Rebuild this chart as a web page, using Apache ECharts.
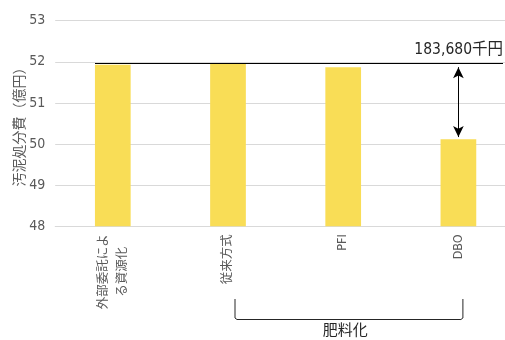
<!DOCTYPE html>
<html>
<head>
<meta charset="utf-8">
<script src="https://cdn.jsdelivr.net/npm/echarts@6/dist/echarts.min.js"></script>
<style>
html, body { margin: 0; padding: 0; background: #fff; }
#chart { width: 505px; height: 340px; }
</style>
</head>
<body>
<div id="chart"></div>
<script>
// data
var categories = ['外部委託による資源化', '従来方式', 'PFI', 'DBO'];
var costs = [51.93, 51.96, 51.87, 50.12];
var baseline = 51.96;
var diffLabel = '183,680千円';
var groupLabel = '肥料化';
var yMin = 48, yMax = 53, yStep = 1;

var narrow = "'Liberation Sans Narrow', 'DejaVu Sans Condensed', 'Noto Sans CJK JP', sans-serif";
var cjk = "'Noto Sans CJK JP', sans-serif";

var myChart = echarts.init(document.getElementById('chart'));

var option = {
  animation: false,
  grid: { left: 55.2, right: -11, top: 20.7, bottom: 113.7, outerBoundsMode: 'none', containLabel: false },
  xAxis: {
    type: 'category',
    data: categories,
    axisTick: { show: false },
    axisLine: { lineStyle: { color: '#d9d9d9' } },
    axisLabel: {
      rotate: 90,
      margin: 8,
      interval: 0,
      color: '#595959',
      fontSize: 12.5,
      fontFamily: narrow,
      formatter: function (v) {
        if (v.length > 6) return '{c|' + v.slice(0, 6) + '}\n{c|' + v.slice(6) + '}';
        return '{c|' + v + '}';
      },
      rich: { c: { align: 'center', fontSize: 12.5, color: '#595959', fontFamily: narrow, lineHeight: 19 } }
    }
  },
  yAxis: {
    type: 'value',
    min: yMin,
    max: yMax,
    interval: yStep,
    name: '汚泥処分費（億円）',
    nameLocation: 'middle',
    nameGap: 30,
    nameMoveOverlap: false,
    nameTextStyle: { color: '#595959', fontSize: 14, fontFamily: cjk },
    axisLabel: { color: '#595959', fontSize: 14, margin: 10, fontFamily: narrow },
    splitLine: { lineStyle: { color: '#d9d9d9' } },
    axisLine: { show: false },
    axisTick: { show: false }
  },
  series: [{
    type: 'bar',
    data: costs,
    barWidth: '31%',
    itemStyle: { color: '#F9DD56' },
    markLine: {
      silent: true,
      data: [
        [
          { x: 95, yAxis: baseline, symbol: 'none',
            lineStyle: { color: '#000', width: 1, type: 'solid' },
            label: { show: true, position: 'insideEndTop', formatter: diffLabel, color: '#262626', fontSize: 15.5, fontFamily: narrow, distance: 6, offset: [6, 0] } },
          { x: 503, yAxis: baseline, symbol: 'none' }
        ],
        [
          { xAxis: 'DBO', yAxis: baseline - 0.09, symbol: 'arrow', symbolSize: [8, 11],
            lineStyle: { color: '#000', width: 1, type: 'solid' },
            label: { show: false } },
          { xAxis: 'DBO', yAxis: costs[3] + 0.05, symbol: 'arrow', symbolSize: [8, 11] }
        ]
      ]
    }
  }]
};
myChart.setOption(option);

// bracket under the 肥料化 group
var xl = myChart.convertToPixel({ xAxisIndex: 0 }, '従来方式') + 7;
var xr = myChart.convertToPixel({ xAxisIndex: 0 }, 'DBO') + 4.5;
var xm = myChart.convertToPixel({ xAxisIndex: 0 }, 'PFI') + 2;
myChart.setOption({
  graphic: [
    { type: 'polyline', shape: { points: [[xl, 299], [xl, 318], [xl + 2, 319.5], [xr - 2, 319.5], [xr, 318], [xr, 299]] },
      style: { stroke: '#262626', lineWidth: 1, fill: null } },
    { type: 'text', x: xm, y: 329, style: { text: groupLabel, fill: '#262626', fontSize: 15, fontFamily: cjk, textAlign: 'center', textVerticalAlign: 'middle' } }
  ]
});
</script>
</body>
</html>
